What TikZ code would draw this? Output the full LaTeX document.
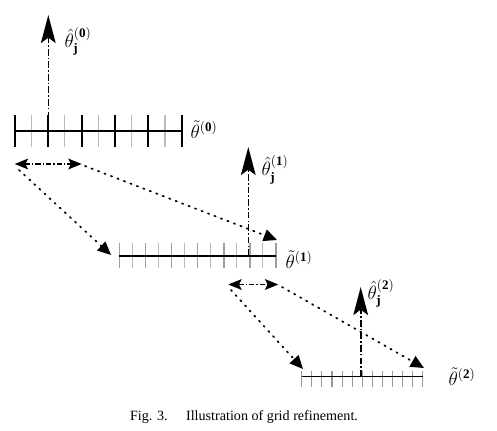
\documentclass[tikz,border=0pt]{standalone}
\usepackage{amsmath, amssymb}
\usepackage{fontspec}
\setmainfont{Liberation Serif}
\usepackage{tikz}
\usetikzlibrary{positioning, arrows.meta, calc}

\begin{document}
\begin{tikzpicture}[
        x=0.75pt, y=-0.75pt,
        >=Stealth,
        gridline/.style={line width=1.4pt},
        tickmajor/.style={line width=1.5pt},
        tickminor/.style={line width=0.8pt, gray!55},
        uparrow/.style={line width=1.2pt, dash pattern=on 5pt off 1.6pt on 1.2pt off 1.6pt,
            -{Stealth[length=21pt, width=11pt, inset=4pt]}},
        spanarrow/.style={line width=1.4pt, dash pattern=on 4pt off 1.5pt on 1pt off 1.5pt,
            {Stealth[length=10pt, width=8pt, inset=2pt]}-{Stealth[length=10pt, width=8pt, inset=2pt]}},
        mapline/.style={line width=1.3pt, dash pattern=on 1pt off 4.2pt, line cap=round,
            -{Triangle[length=10pt, width=9pt]}},
        lbl/.style={inner sep=0pt, font=\fontsize{14}{16}\selectfont}
    ]
        \useasboundingbox (0,0) rectangle (497,430);

        % coarse grid
        \def\stepA{16.7}
        \foreach \i in {0,...,10} {
            \pgfmathtruncatemacro{\odd}{mod(\i,2)}
            \ifnum\odd=0
                \draw[tickmajor] ({14.7+\i*\stepA},115) -- ({14.7+\i*\stepA},146.7);
            \else
                \draw[tickminor] ({14.7+\i*\stepA},115) -- ({14.7+\i*\stepA},146.7);
            \fi
        }
        \draw[gridline] (14.7,130.7) -- (181.7,130.7);

        % first refinement
        \def\stepB{13.06}
        \foreach \i in {0,...,12} {
            \pgfmathtruncatemacro{\odd}{mod(\i,2)}
            \ifnum\odd=0
                \draw[line width=1.2pt, gray!75] ({119.3+\i*\stepB},243) -- ({119.3+\i*\stepB},268.3);
            \else
                \draw[tickminor] ({119.3+\i*\stepB},243) -- ({119.3+\i*\stepB},268.3);
            \fi
        }
        \draw[line width=1pt] (119.3,256) -- (276,256);

        % second refinement
        \def\stepC{10.1}
        \foreach \i in {0,...,12}
            \draw[line width=0.8pt, gray!80] ({301.7+\i*\stepC},370.7) -- ({301.7+\i*\stepC},386.7);
        \draw[line width=0.7pt] (301.7,376.7) -- (423,376.7);

        % estimates
        \coordinate (J0) at (48.3,130.7);
        \coordinate (J0tip) at (48.3,15);
        \coordinate (J1) at (248.3,256);
        \coordinate (J1tip) at (248.3,147);
        \coordinate (J2) at (360.7,376.7);
        \coordinate (J2tip) at (360.7,287);
        \draw[uparrow] (J0) -- (J0tip);
        \draw[uparrow] (J1) -- (J1tip);
        \draw[uparrow] (J2) -- (J2tip);

        % search intervals
        \coordinate (S0l) at (14.7,164);
        \coordinate (S0r) at (81.7,164);
        \coordinate (S1l) at (228.3,284.5);
        \coordinate (S1r) at (278.3,284.5);
        \draw[spanarrow] (S0l) -- (S0r);
        \draw[spanarrow] (S1l) -- (S1r);

        % mapping onto the finer grid
        \coordinate (M0l) at (19,170);
        \coordinate (M0r) at (85,166);
        \coordinate (M1l) at (231,290);
        \coordinate (M1r) at (282,287);
        \coordinate (T1l) at (111,255);
        \coordinate (T1r) at (277,240);
        \coordinate (T2l) at (303,369);
        \coordinate (T2r) at (424,368);
        \draw[mapline] (M0l) -- (T1l);
        \draw[mapline] (M0r) -- (T1r);
        \draw[mapline] (M1l) -- (T2l);
        \draw[mapline] (M1r) -- (T2r);

        % labels
        \node[lbl] (hat0) at (78,41.5) {$\hat{\theta}_{\mathbf{j}}^{\mathbf{(0)}}$};
        \node[lbl] (til0) at (204,130) {$\tilde{\theta}^{\mathbf{(0)}}$};
        \node[lbl] (hat1) at (275,170) {$\hat{\theta}_{\mathbf{j}}^{\mathbf{(1)}}$};
        \node[lbl] (til1) at (299,259.5) {$\tilde{\theta}^{\mathbf{(1)}}$};
        \node[lbl] (hat2) at (381,293.5) {$\hat{\theta}_{\mathbf{j}}^{\mathbf{(2)}}$};
        \node[lbl] (til2) at (462,376.5) {$\tilde{\theta}^{\mathbf{(2)}}$};

        \node[inner sep=0pt, font=\fontsize{10.6}{12}\selectfont] (caption) at (244,417)
            {Fig. 3.\hspace{1.3em}Illustration of grid refinement.};
    \end{tikzpicture}
\end{document}
